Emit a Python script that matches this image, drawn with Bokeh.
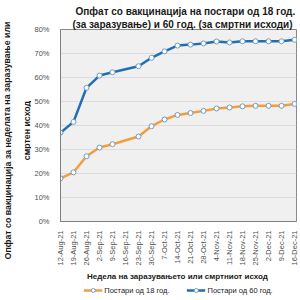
from bokeh.plotting import figure
from bokeh.layouts import row, column
from bokeh.models import Range1d, FixedTicker, Legend, LegendItem, Title
from bokeh.core.properties import value
from bokeh.embed import file_html
from bokeh.resources import INLINE

weeks = ["12-Aug-21", "19-Aug-21", "26-Aug-21", "2-Sep-21", "9-Sep-21", "16-Sep-21",
         "23-Sep-21", "30-Sep-21", "7-Oct-21", "14-Oct-21", "21-Oct-21", "28-Oct-21",
         "4-Nov-21", "11-Nov-21", "18-Nov-21", "25-Nov-21", "2-Dec-21", "9-Dec-21", "16-Dec-21"]
over18 = [18.0, 20.5, 27.2, 30.8, 32.2, None, 35.4, 39.7, 42.5, 44.4, 45.2, 46.1,
          47.1, 47.5, 48.0, 48.2, 48.2, 48.2, 49.0]
over60 = [37.0, 41.5, 55.7, 60.8, 62.2, None, 64.7, 68.2, 70.9, 73.3, 73.7, 74.2,
          75.0, 74.6, 75.1, 75.1, 75.1, 75.1, 75.7]
y_ticks = [0, 10, 20, 30, 40, 50, 60, 70, 80]
y_tick_labels = ["0%", "10%", "20%", "30%", "40%", "50%", "60%", "70%", "80%"]
title_lines = ["Опфат со вакцинација на постари од 18 год.",
               "(за заразување) и 60 год. (за смртни исходи)"]
y_title = ["Опфат со вакцинација за неделата на заразување или", "смртен исход"]
x_title = "Недела на заразувањето или смртниот  исход"
series_names = ["Постари од 18 год.", "Постари од 60 год."]
series_colors = ["#f59d3d", "#226db3"]
series_values = [over18, over60]

FONT = "Liberation Sans"
MARK = "#6f9cc4"
TXT = "#1a1a1a"
STRIP_W = 31
LEG_H = 16

# narrow strip on the left carrying the two lines of the y-axis title
strip = figure(width=STRIP_W, height=300, output_backend="svg", toolbar_location=None,
               x_range=Range1d(0, STRIP_W), y_range=Range1d(0, 300),
               min_border=0, x_axis_location=None, y_axis_location=None)
strip.grid.visible = False
strip.outline_line_color = None
strip.background_fill_color = "white"
strip.text(x=[7, 26.5], y=[160, 170], text=y_title, angle=1.5708, text_align="center",
           text_baseline="middle", text_font=value(FONT), text_font_size="8.8px",
           text_font_style="bold", text_color=TXT)

p = figure(width=300 - STRIP_W, height=300 - LEG_H, output_backend="svg", toolbar_location=None,
           x_range=Range1d(0, 18.15), y_range=Range1d(0, 80),
           min_border_left=52 - STRIP_W, min_border_right=4, min_border_top=29,
           min_border_bottom=79 - LEG_H)
p.background_fill_color = "#f0f0f0"
p.border_fill_color = "white"
p.outline_line_color = "#8a8a8a"
p.outline_line_width = 1
p.xgrid.grid_line_color = None
p.ygrid.grid_line_color = "#dcdcdc"
p.ygrid.ticker = FixedTicker(ticks=y_ticks)

p.title.text = title_lines[0]
p.title.align = "left"
p.title.offset = 15
p.title.standoff = 0
p.title.text_font = FONT
p.title.text_font_size = "10px"
p.title.text_font_style = "bold"
p.title.text_color = TXT
p.add_layout(Title(text=title_lines[1], align="left", offset=12, standoff=0, text_font=FONT,
                   text_font_size="10px", text_font_style="bold", text_color=TXT), "above")

p.yaxis.ticker = FixedTicker(ticks=y_ticks)
p.yaxis.major_label_overrides = {t: l for t, l in zip(y_ticks, y_tick_labels)}
p.xaxis.ticker = FixedTicker(ticks=list(range(len(weeks))))
p.xaxis.major_label_overrides = {i: w for i, w in enumerate(weeks)}
p.xaxis.major_label_orientation = 1.5708
for ax in (p.xaxis, p.yaxis):
    ax.axis_line_color = "#7f7f7f"
    ax.major_tick_line_color = None
    ax.minor_tick_line_color = None
    ax.major_label_text_font = FONT
    ax.major_label_text_font_size = "7.5px"
    ax.major_label_text_color = "#505050"
    ax.major_label_standoff = 3
    ax.axis_label_text_font = FONT
    ax.axis_label_text_font_size = "8px"
    ax.axis_label_text_font_style = "bold"
    ax.axis_label_text_color = TXT
p.yaxis.major_label_standoff = 5
p.xaxis.axis_label = x_title
p.xaxis.axis_label_standoff = 3

for vals, col in zip(series_values, series_colors):
    xs = [i for i, v in enumerate(vals) if v is not None]
    ys = [v for v in vals if v is not None]
    p.line(xs, ys, line_color=col, line_width=2.5)
    p.scatter(xs, ys, size=5, marker="circle", fill_color="white", line_color=MARK, line_width=1)

# legend strip below the chart; its renderers hold the series but lie outside its view
leg = figure(width=300 - STRIP_W, height=LEG_H, output_backend="svg", toolbar_location=None,
             x_range=Range1d(0, 1), y_range=Range1d(-2, -1), min_border=0,
             x_axis_location=None, y_axis_location=None)
leg.grid.visible = False
leg.outline_line_color = None
leg.background_fill_color = "white"
items = []
for name, vals, col in zip(series_names, series_values, series_colors):
    xs = [i for i, v in enumerate(vals) if v is not None]
    ys = [v for v in vals if v is not None]
    l = leg.line(xs, ys, line_color=col, line_width=2.5)
    s = leg.scatter(xs, ys, size=5, marker="circle", fill_color="white", line_color=MARK, line_width=1)
    items.append(LegendItem(label=name, renderers=[l, s]))
legend = Legend(items=items, orientation="horizontal", location="top_center",
                background_fill_alpha=0, border_line_color=None,
                label_text_font=FONT, label_text_font_size="7.5px", label_text_color="#222222",
                glyph_width=19, glyph_height=10, label_standoff=2, spacing=17, padding=0, margin=1)
leg.add_layout(legend, "center")

layout = row(strip, column(p, leg, spacing=0), spacing=0)
open("out.html", "w").write(file_html(layout, INLINE))
